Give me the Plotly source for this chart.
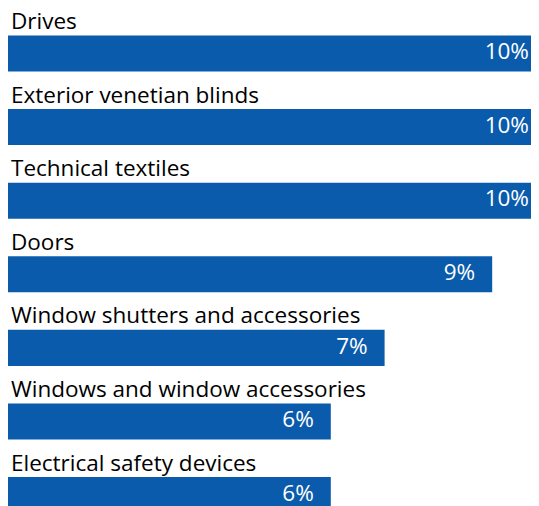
import plotly.graph_objects as go

categories = [
    "Drives",
    "Exterior venetian blinds",
    "Technical textiles",
    "Doors",
    "Window shutters and accessories",
    "Windows and window accessories",
    "Electrical safety devices",
]
values = [10, 10, 10, 9, 7, 6, 6]
value_labels = ["10%", "10%", "10%", "9%", "7%", "6%", "6%"]

BLUE = "#0a5bac"
FONT = "Open Sans"
FSIZE = 22.5

fig = go.Figure()
fig.add_trace(go.Bar(
    y=categories, x=values, orientation="h",
    width=0.49,
    marker=dict(color=BLUE, line=dict(width=0)),
    hoverinfo="skip",
))
# value labels placed just inside the bar ends
fig.add_trace(go.Scatter(
    y=categories, x=values, mode="markers+text",
    text=value_labels, textposition="middle left",
    marker=dict(size=25.6, opacity=0),
    textfont=dict(family=FONT, size=FSIZE, color="white"),
    cliponaxis=True, hoverinfo="skip",
))

for cat in categories:
    fig.add_annotation(
        xref="paper", x=0, xanchor="left", xshift=1,
        yref="y", y=cat, yanchor="middle", yshift=33,
        text=cat, showarrow=False,
        font=dict(family=FONT, size=FSIZE, color="#000000"),
    )

fig.update_layout(
    width=531, height=498,
    margin=dict(l=0, r=0, t=0, b=0),
    paper_bgcolor="white", plot_bgcolor="white",
    showlegend=False,
    xaxis=dict(range=[0, 9.87], visible=False, fixedrange=True),
    yaxis=dict(type="category", categoryorder="array", categoryarray=categories,
               range=[6.148, -0.618], visible=False, fixedrange=True),
)

fig.write_html("out.html")
